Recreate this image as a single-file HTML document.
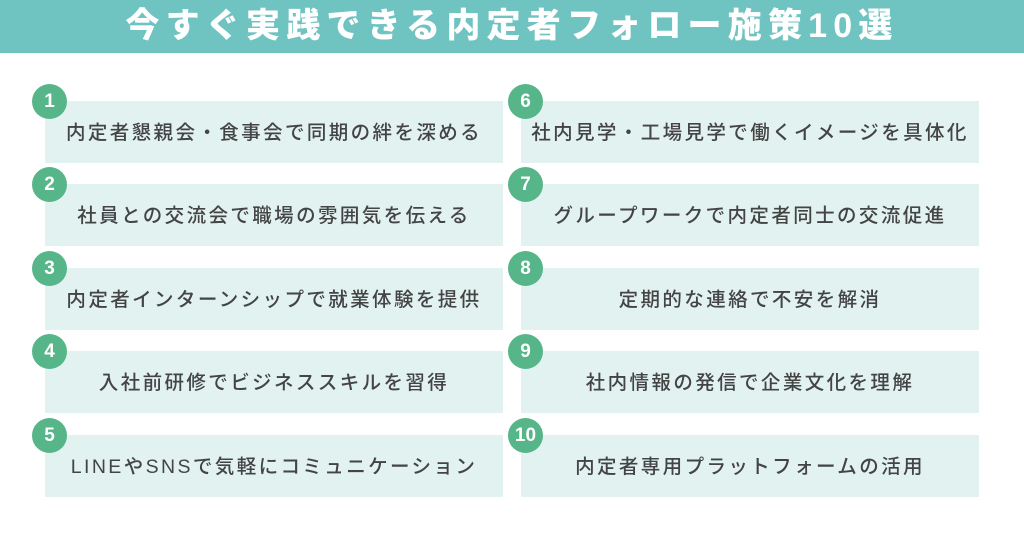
<!DOCTYPE html>
<html><head><meta charset="utf-8"><style>
body{margin:0;width:1024px;height:536px;background:#fff;position:relative;overflow:hidden;font-family:"Liberation Sans","Noto Sans CJK JP",sans-serif}
.hd{position:absolute;left:0;top:0;width:1024px;height:53px;background:#6fc3c1;color:#fff;font-weight:900;font-size:34px;line-height:53px;text-align:center;letter-spacing:6.2px}
.b{position:absolute;width:458px;height:62px;background:#e1f2f1;color:#444;font-size:19.5px;line-height:64px;text-align:center;letter-spacing:2.4px;font-weight:500}
.c{position:absolute;width:35px;height:35px;border-radius:50%;background:#57b58a;color:#fff;font-weight:bold;font-size:19px;line-height:35px;text-align:center}
</style></head><body>
<div class="hd">今すぐ実践できる内定者フォロー施策10選</div>
<div class="b" style="left:45px;top:101px">内定者懇親会・食事会で同期の絆を深める</div><div class="c" style="left:32px;top:84px">1</div>
<div class="b" style="left:45px;top:184px">社員との交流会で職場の雰囲気を伝える</div><div class="c" style="left:32px;top:167px">2</div>
<div class="b" style="left:45px;top:268px">内定者インターンシップで就業体験を提供</div><div class="c" style="left:32px;top:251px">3</div>
<div class="b" style="left:45px;top:351px">入社前研修でビジネススキルを習得</div><div class="c" style="left:32px;top:334px">4</div>
<div class="b" style="left:45px;top:435px">LINEやSNSで気軽にコミュニケーション</div><div class="c" style="left:32px;top:418px">5</div>
<div class="b" style="left:521px;top:101px">社内見学・工場見学で働くイメージを具体化</div><div class="c" style="left:508px;top:84px">6</div>
<div class="b" style="left:521px;top:184px">グループワークで内定者同士の交流促進</div><div class="c" style="left:508px;top:167px">7</div>
<div class="b" style="left:521px;top:268px">定期的な連絡で不安を解消</div><div class="c" style="left:508px;top:251px">8</div>
<div class="b" style="left:521px;top:351px">社内情報の発信で企業文化を理解</div><div class="c" style="left:508px;top:334px">9</div>
<div class="b" style="left:521px;top:435px">内定者専用プラットフォームの活用</div><div class="c" style="left:508px;top:418px">10</div>
</body></html>
